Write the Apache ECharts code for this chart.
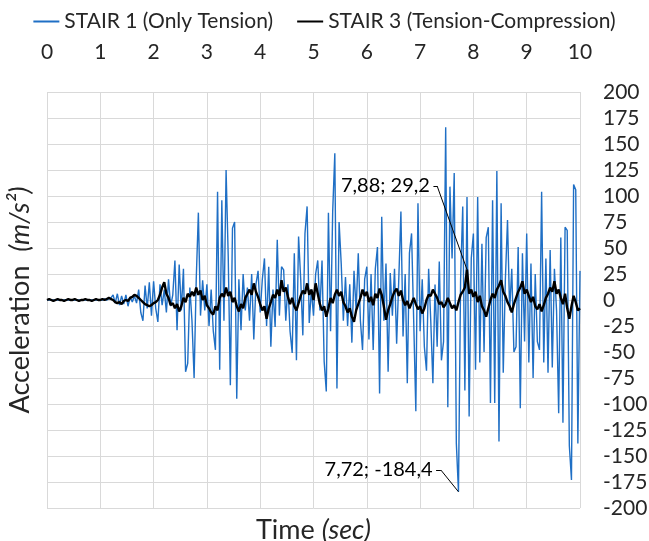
<!DOCTYPE html>
<html><head><meta charset="utf-8">
<script src="https://cdn.jsdelivr.net/npm/echarts@6/dist/echarts.min.js"></script>
<style>html,body{margin:0;padding:0;background:#fff}#c{width:649px;height:541px}</style>
</head><body><div id="c"></div>
<script>
// ---- data ----
const seriesNames = ['STAIR 1 (Only Tension)', 'STAIR 3 (Tension-Compression)'];
const timeStep = 0.04; // seconds between samples, starting at t = 0
const xMin = 0, xMax = 10, xInterval = 1;
const yMin = -200, yMax = 200, yInterval = 25;

const stair1 = [
  0,0,0,0,0,0,0,0,0,0,0,0,0,0,0,0,0,0,0,0,0,0,0,0,0,
  0,0,1,0,1,2,5,-3,6,-5,4,-4,5,-6,3,-2,4,-3,10,-12,-20,14,-8,17,-15,
  18,-8,-21,15,-5,10,-12,20,-6,5,38,-29,34,-10,30,-69,-61,12,-20,-75,20,84,-15,19,-10,
  15,-25,10,-30,-48,104,-67,96,-20,125,42,-82,69,75,-95,20,-29,25,-10,12,-20,25,-38,15,28,
  -12,20,40,-25,32,-45,10,-26,58,-15,32,29,-20,15,-30,-51,45,-58,61,20,-34,64,90,-22,10,
  -15,25,38,-10,38,-59,-88,84,-30,85,141,-85,75,35,-20,22,-25,15,-41,28,-10,45,-20,-48,20,
  32,-38,25,-48,30,51,-90,80,-20,35,-69,26,-15,30,-42,20,85,-35,25,-80,45,64,-20,-107,93,
  -30,20,-45,-68,30,-20,-80,15,-45,37,-58,-40,166,-103,109,40,122,-138,-184.4,20,90,-87,99,-112,40,
  64,-67,99,-60,54,-50,60,70,-99,96,-99,124,-136,93,-70,20,77,-10,30,-50,-45,51,-104,45,-40,
  64,-60,35,-75,25,-40,-48,104,-60,40,-70,48,-65,30,-10,-109,60,-118,70,67,-140,-173,111,106,-138,
  28
];

const stair3 = [
  0,1,0,-1,0,1,0,0,-1,0,1,0,0,1,0,-1,0,0,1,0,0,-1,0,1,0,
  0,1,0,1,2,1,0,-2,-3,-2,-4,-1,0,-1,2,3,5,4,2,0,-2,-4,-5,-6,-5,
  -3,-2,0,5,12,17,6,2,-5,-3,-8,-4,-11,-6,2,-2,6,3,8,4,12,5,9,0,4,
  -5,-8,-12,-14,-6,-10,2,6,3,12,4,8,-2,2,-6,-11,-4,-8,2,6,10,5,16,8,3,
  -4,-10,-6,-18,-8,-2,5,2,10,4,19,8,12,3,-4,2,-6,-10,-3,4,9,6,16,5,10,
  0,16,6,-4,-10,-6,-16,-8,2,-3,5,10,4,8,-2,-6,-12,-8,-16,-21,-10,-4,2,10,4,
  8,-2,3,-5,6,2,11,5,-6,-19,-10,-4,3,8,11,4,9,0,-5,-1,-8,-3,2,-4,-9,
  -6,-13,-8,0,5,4,10,6,2,-4,-2,-7,-4,2,-3,-8,-5,-10,-2,5,8,12,29.2,6,10,
  3,8,-2,4,-6,-10,-16,-8,0,6,2,10,14,19,8,4,-2,-6,-12,-4,2,8,12,18,6,
  10,4,-2,3,-6,-9,-4,-11,-5,2,6,12,8,18,6,10,2,-4,6,-8,-18,-6,4,-2,-10,
  -8
];

// ---- helpers ----
const FONT = 'Lato, "Open Sans", sans-serif';
const TXT = '#262626';
const toPairs = arr => arr.map((v, i) => [+(i * timeStep).toFixed(2), v]);
const fmt = (t, v) => t.toFixed(2).replace('.', ',') + '; ' + v.toFixed(1).replace('.', ',');

function extreme(arr, useMax) {
  let idx = 0;
  arr.forEach((v, i) => { if (useMax ? v > arr[idx] : v < arr[idx]) idx = i; });
  return [+(idx * timeStep).toFixed(2), arr[idx]];
}
const blueMin = extreme(stair1, false);
const blackMax = extreme(stair3, true);

// annotation elbow / label anchor (data coords)
const blackElbow = [7.32, 109.6], blackAnchor = [7.25, 109.6];
const blueElbow = [7.39, -163.5], blueAnchor = [7.30, -163.5];

function annotation(point, elbow, anchor) {
  return {
    markLine: {
      silent: true, symbol: ['none', 'none'], animation: false,
      lineStyle: { color: '#000', width: 1, type: 'solid' },
      label: { show: false },
      emphasis: { disabled: true },
      data: [
        [{ coord: point }, { coord: elbow }],
        [{ coord: elbow }, { coord: anchor }]
      ]
    },
    markPoint: {
      silent: true, symbol: 'circle', symbolSize: 1, animation: false,
      itemStyle: { color: 'rgba(0,0,0,0)' },
      label: {
        show: true, position: 'left', distance: 3,
        formatter: fmt(point[0], point[1]),
        fontSize: 20, fontFamily: FONT, color: '#000'
      },
      data: [{ coord: anchor }]
    }
  };
}

const chart = echarts.init(document.getElementById('c'), null, { renderer: 'canvas' });
chart.setOption({
  animation: false,
  backgroundColor: '#fff',
  legend: {
    data: seriesNames, top: 6, left: 'center',
    icon: 'rect', itemWidth: 26, itemHeight: 2, itemGap: 24,
    textStyle: { fontSize: 21, fontFamily: FONT, color: TXT }
  },
  grid: { left: 47, right: 69, top: 92, bottom: 33, containLabel: false, outerBoundsMode: 'none' },
  xAxis: [
    {
      type: 'value', position: 'top', min: xMin, max: xMax, interval: xInterval,
      axisLine: { show: false }, axisTick: { show: false },
      axisLabel: { fontSize: 21, fontFamily: FONT, color: TXT, margin: 29 },
      splitLine: { show: true, lineStyle: { color: '#d9d9d9', width: 1 } }
    },
    {
      type: 'value', position: 'bottom', min: xMin, max: xMax, interval: xInterval,
      axisLine: { show: false }, axisTick: { show: false },
      axisLabel: { show: false }, splitLine: { show: false },
      name: '{a|Time }{b|(sec)}', nameLocation: 'middle', nameGap: 9,
      nameTextStyle: { rich: {
        a: { fontSize: 27, fontFamily: FONT, color: TXT },
        b: { fontSize: 27, fontFamily: FONT, color: TXT, fontStyle: 'italic' }
      } }
    }
  ],
  yAxis: [
    {
      type: 'value', position: 'right', min: yMin, max: yMax, interval: yInterval,
      axisLine: { show: false }, axisTick: { show: false },
      axisLabel: { fontSize: 21, fontFamily: FONT, color: TXT, margin: 23 },
      splitLine: { show: true, lineStyle: { color: '#d9d9d9', width: 1 } }
    },
    {
      type: 'value', position: 'left', min: yMin, max: yMax, interval: yInterval,
      axisLine: { show: false }, axisTick: { show: false },
      axisLabel: { show: false }, splitLine: { show: false },
      name: '{a|Acceleration  }{b|(m/s²)}', nameLocation: 'middle', nameGap: 13, nameRotate: 90,
      nameTextStyle: { rich: {
        a: { fontSize: 27, fontFamily: FONT, color: TXT },
        b: { fontSize: 27, fontFamily: FONT, color: TXT, fontStyle: 'italic' }
      } }
    }
  ],
  series: [
    Object.assign({
      name: seriesNames[0], type: 'line', xAxisIndex: 0, yAxisIndex: 0,
      symbol: 'none', showSymbol: false,
      lineStyle: { color: '#1f6fc5', width: 1.4 }, itemStyle: { color: '#1f6fc5' },
      data: toPairs(stair1), z: 2
    }, annotation(blueMin, blueElbow, blueAnchor)),
    Object.assign({
      name: seriesNames[1], type: 'line', xAxisIndex: 0, yAxisIndex: 0,
      symbol: 'none', showSymbol: false,
      lineStyle: { color: '#000', width: 2.4 }, itemStyle: { color: '#000' },
      data: toPairs(stair3), z: 3
    }, annotation(blackMax, blackElbow, blackAnchor))
  ]
});
</script></body></html>
